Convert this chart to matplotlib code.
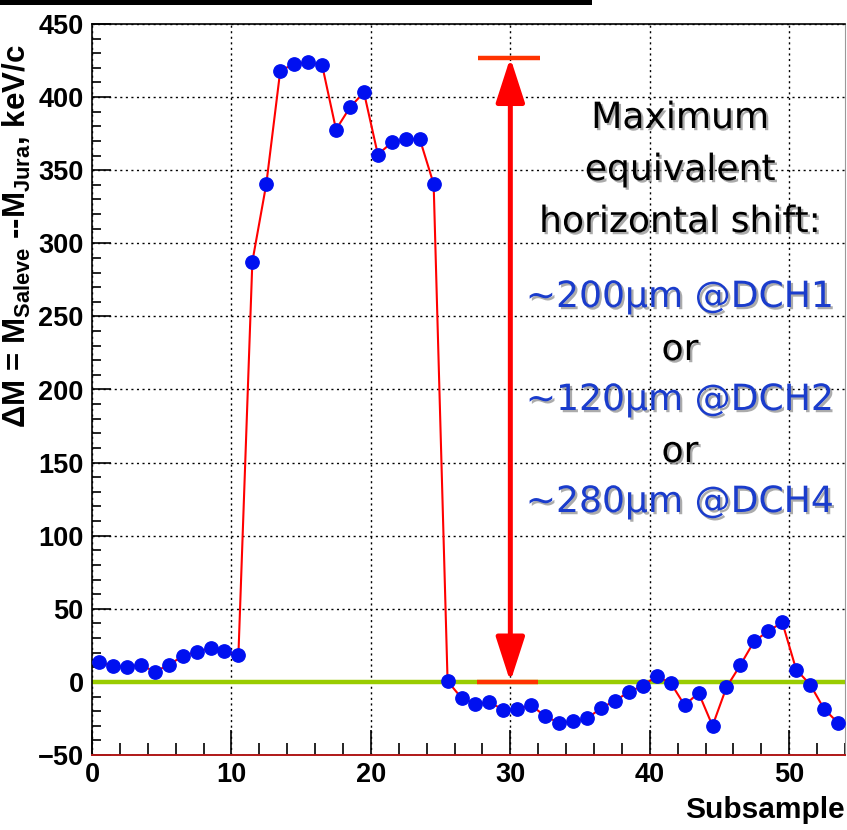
import matplotlib
matplotlib.use("Agg")
import matplotlib.pyplot as plt
import matplotlib.patheffects as pe
from matplotlib.patches import Rectangle
from matplotlib.ticker import MultipleLocator

# ---------------- data ----------------
subsample = [i + 0.5 for i in range(54)]
delta_m = [
    13.7, 10.7, 10.5, 11.6, 7.0, 11.6, 17.6, 20.7, 23.0, 21.4, 18.5,
    287.5, 340.6, 418.0, 422.7, 423.8, 422.0, 377.8, 393.0, 403.3, 360.7, 369.0, 371.0, 371.5, 340.6,
    0.5, -11.0, -15.0, -14.0, -19.0, -18.5, -16.0, -23.5, -28.0, -27.0, -25.0, -18.0, -12.8, -7.0, -2.5,
    3.9, -0.7, -16.0, -7.5, -30.0, -3.7, 11.6, 28.0, 34.6, 40.8, 8.4, -1.8, -18.5, -28.0,
]
max_shift = 427
arrow_x = 30
bar_x = [27.7, 32.1]
xticks = [0, 10, 20, 30, 40, 50]
yticks = [-50, 0, 50, 100, 150, 200, 250, 300, 350, 400, 450]
black_lines = ["Maximum", "equivalent", "horizontal shift:"]
blue_lines = ["~200\u00b5m @DCH1", "or", "~120\u00b5m @DCH2", "or", "~280\u00b5m @DCH4"]

W, H = 847, 830
plt.rcParams['mathtext.fontset'] = 'custom'
plt.rcParams['mathtext.rm'] = 'Liberation Sans:bold'
plt.rcParams['mathtext.bf'] = 'Liberation Sans:bold'
plt.rcParams['mathtext.it'] = 'Liberation Sans:bold'

fig = plt.figure(figsize=(W / 100, H / 100), dpi=100)
ax = fig.add_axes([92 / W, 1 - 755 / H, (845 - 92) / W, (755 - 24) / H])

ax.set_xlim(0, 54)
ax.set_ylim(-50, 450)

ax.axhline(0, color='#99cc00', lw=3.2, zorder=2)
ax.plot(subsample, delta_m, color='red', lw=1.5, zorder=3)
ax.plot(subsample, delta_m, 'o', color='#0010f0', ms=9.6, mec='#0010f0', zorder=4)

# double arrow and bars
ax.annotate('', xy=(arrow_x, 0), xytext=(arrow_x, max_shift),
            arrowprops=dict(arrowstyle='<|-|>,head_length=1.7,head_width=0.55',
                            color='#ff0000', lw=3.6, mutation_scale=16,
                            shrinkA=0, shrinkB=0), zorder=5)
ax.plot(bar_x, [max_shift, max_shift], color='#ff3300', lw=3.2, solid_capstyle='butt', zorder=5)
ax.plot([bar_x[0] - 0.1, bar_x[1] - 0.1], [0, 0], color='#ff3300', lw=3.2, solid_capstyle='butt', zorder=5)

ax.set_xticks(xticks)
ax.set_yticks(yticks)
ax.xaxis.set_minor_locator(MultipleLocator(2))
ax.yaxis.set_minor_locator(MultipleLocator(10))
ax.grid(True, which='major', color='black', ls=(0, (1.5, 2.5)), lw=1.0)
ax.tick_params(axis='both', which='both', direction='in', top=False, right=False, width=1.2)
ax.tick_params(axis='y', which='major', length=14, pad=6)
ax.tick_params(axis='y', which='minor', length=6.5)
ax.tick_params(axis='x', which='major', length=18, pad=5)
ax.tick_params(axis='x', which='minor', length=8.5)
for lab in ax.get_xticklabels() + ax.get_yticklabels():
    lab.set_fontfamily('Liberation Sans')
    lab.set_fontweight('bold')
    lab.set_fontsize(19.5)
for s in ['left', 'top']:
    ax.spines[s].set_linewidth(1.2)
ax.spines['right'].set_color('#999999')
ax.spines['bottom'].set_color('#b01818')
ax.spines['bottom'].set_linewidth(1.4)

ax.set_ylabel(r'$\Delta$M = M$_{\rm Saleve}$ --M$_{\rm Jura}$, keV/c',
              fontfamily='Liberation Sans', fontweight='bold', fontsize=22.5)
ax.yaxis.set_label_coords(-0.078, 0.71)

fig.text(845 / W, 1 - 810 / H, 'Subsample', ha='right', va='center',
         fontfamily='Liberation Sans', fontweight='bold', fontsize=21.5)

# annotation text with shadow
shadow = [pe.withSimplePatchShadow(offset=(1.6, -1.6), shadow_rgbFace='#888888', alpha=0.7)]
ys_black = [118, 170, 222]
for t, py in zip(black_lines, ys_black):
    fig.text(680 / W, 1 - py / H, t, ha='center', va='center', fontsize=26,
             fontfamily='DejaVu Sans', color='black', path_effects=shadow)
ys_blue = [297, 350, 400, 452, 502]
for t, py in zip(blue_lines, ys_blue):
    col = 'black' if t == 'or' else '#1a3ccc'
    fig.text(680 / W, 1 - py / H, t, ha='center', va='center', fontsize=26,
             fontfamily='DejaVu Sans', color=col, path_effects=shadow)

# black bar at top of slide
fig.add_artist(Rectangle((0, 1 - 5 / H), 592 / W, 5 / H, transform=fig.transFigure,
                         color='black', lw=0))

fig.savefig('out.png', dpi=100)
